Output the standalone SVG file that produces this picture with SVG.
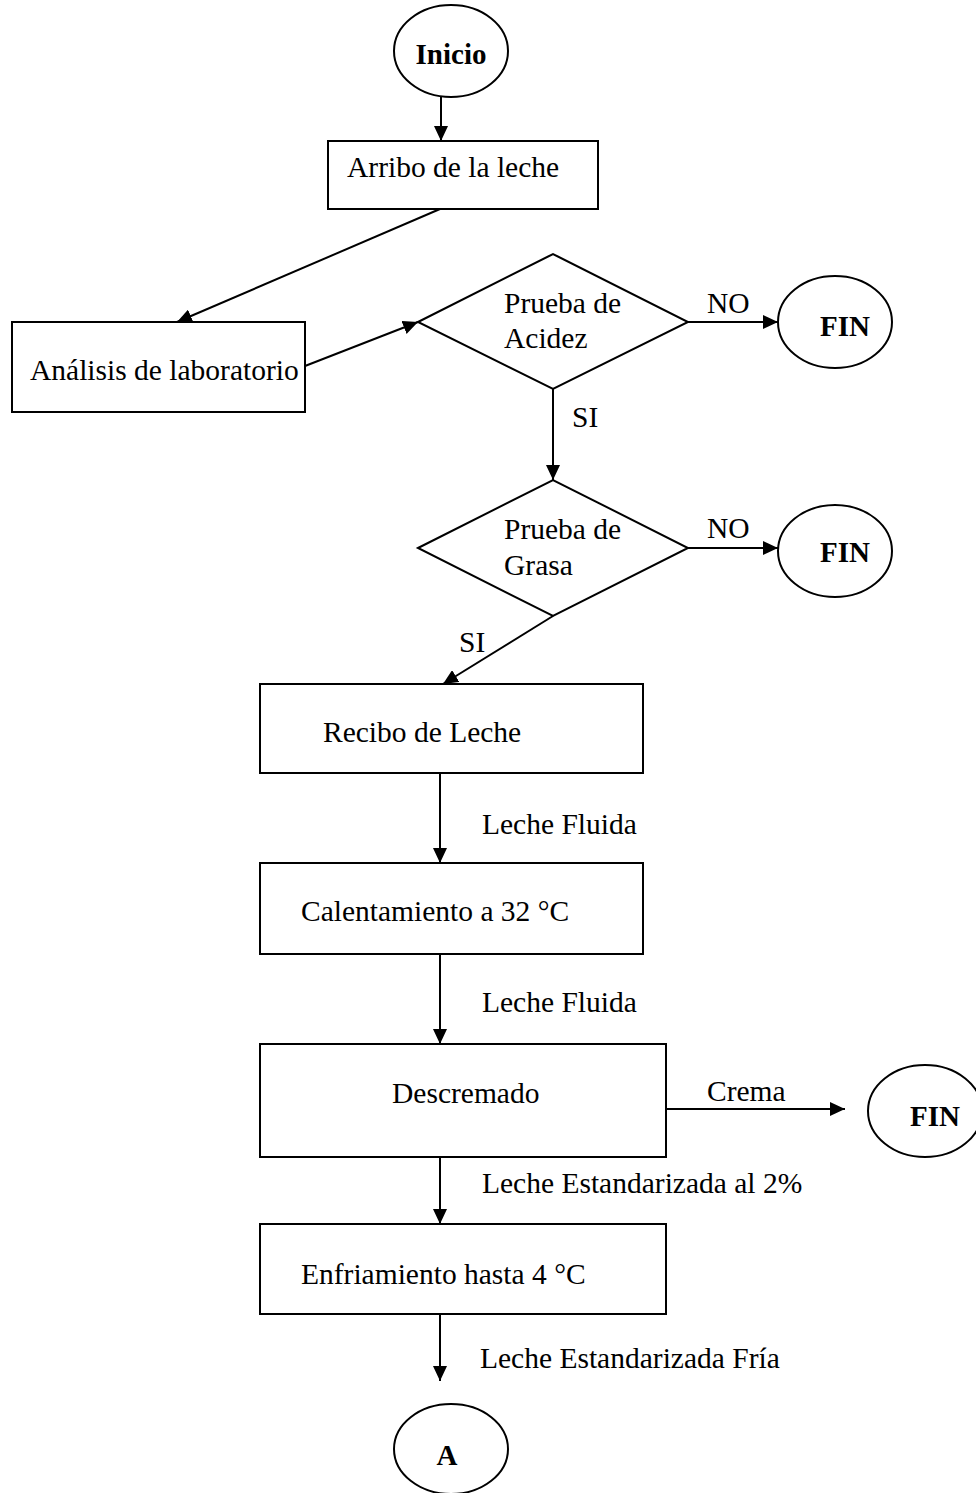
<svg xmlns="http://www.w3.org/2000/svg" width="976" height="1493" viewBox="0 0 976 1493">
<style>
.s{fill:#fff;stroke:#000;stroke-width:2}
.t{font-family:"Liberation Serif","Times New Roman",serif;font-size:29.5px;fill:#000}
.b{font-family:"Liberation Serif","Times New Roman",serif;font-size:29px;font-weight:bold;fill:#000;text-anchor:middle}
.c{fill:none;stroke:#000;stroke-width:2}
</style>
<defs>
<marker id="ar" markerUnits="userSpaceOnUse" markerWidth="16" markerHeight="14" refX="15" refY="7" orient="auto">
<path d="M0,0 L15,7 L0,14 Z" fill="#000"/>
</marker>
</defs>
<rect width="976" height="1493" fill="#fff"/>
<g id="connectors">
<line class="c" x1="441" y1="97" x2="441" y2="141" marker-end="url(#ar)"/>
<line class="c" x1="440" y1="209" x2="177" y2="322" marker-end="url(#ar)"/>
<line class="c" x1="305" y1="366" x2="418" y2="322" marker-end="url(#ar)"/>
<line class="c" x1="688" y1="322" x2="778" y2="322" marker-end="url(#ar)"/>
<line class="c" x1="553" y1="389" x2="553" y2="480" marker-end="url(#ar)"/>
<line class="c" x1="688" y1="548" x2="778" y2="548" marker-end="url(#ar)"/>
<line class="c" x1="553" y1="616" x2="443" y2="684" marker-end="url(#ar)"/>
<line class="c" x1="440" y1="773" x2="440" y2="863" marker-end="url(#ar)"/>
<line class="c" x1="440" y1="954" x2="440" y2="1044" marker-end="url(#ar)"/>
<line class="c" x1="666" y1="1109" x2="845" y2="1109" marker-end="url(#ar)"/>
<line class="c" x1="440" y1="1157" x2="440" y2="1224" marker-end="url(#ar)"/>
<line class="c" x1="440" y1="1314" x2="440" y2="1381" marker-end="url(#ar)"/>
<text class="t" x="707" y="313">NO</text>
<text class="t" x="572" y="427">SI</text>
<text class="t" x="707" y="538">NO</text>
<text class="t" x="459" y="652">SI</text>
<text class="t" x="482" y="834">Leche Fluida</text>
<text class="t" x="482" y="1012">Leche Fluida</text>
<text class="t" x="707" y="1101">Crema</text>
<text class="t" x="482" y="1193">Leche Estandarizada al 2%</text>
<text class="t" x="480" y="1368">Leche Estandarizada Fría</text>
</g>
<g id="inicio">
<ellipse class="s" cx="451" cy="51" rx="57" ry="46"/>
<text class="b" x="451" y="64">Inicio</text>
</g>
<g id="arribo">
<rect class="s" x="328" y="141" width="270" height="68"/>
<text class="t" x="347" y="177">Arribo de la leche</text>
</g>
<g id="analisis">
<rect class="s" x="12" y="322" width="293" height="90"/>
<text class="t" x="30" y="380">Análisis de laboratorio</text>
</g>
<g id="acidez">
<polygon class="s" points="418,322 553,254 688,322 553,389"/>
<text class="t" x="504" y="313">Prueba de</text>
<text class="t" x="504" y="348">Acidez</text>
</g>
<g id="fin1">
<ellipse class="s" cx="835" cy="322" rx="57" ry="46"/>
<text class="b" x="845" y="336">FIN</text>
</g>
<g id="grasa">
<polygon class="s" points="418,548 553,480 688,548 553,616"/>
<text class="t" x="504" y="539">Prueba de</text>
<text class="t" x="504" y="575">Grasa</text>
</g>
<g id="fin2">
<ellipse class="s" cx="835" cy="551" rx="57" ry="46"/>
<text class="b" x="845" y="562">FIN</text>
</g>
<g id="recibo">
<rect class="s" x="260" y="684" width="383" height="89"/>
<text class="t" x="323" y="742">Recibo de Leche</text>
</g>
<g id="calentamiento">
<rect class="s" x="260" y="863" width="383" height="91"/>
<text class="t" x="301" y="921">Calentamiento a 32 °C</text>
</g>
<g id="descremado">
<rect class="s" x="260" y="1044" width="406" height="113"/>
<text class="t" x="392" y="1103">Descremado</text>
</g>
<g id="fin3">
<ellipse class="s" cx="925" cy="1111" rx="57" ry="46"/>
<text class="b" x="935" y="1126">FIN</text>
</g>
<g id="enfriamiento">
<rect class="s" x="260" y="1224" width="406" height="90"/>
<text class="t" x="301" y="1284">Enfriamiento hasta 4 °C</text>
</g>
<g id="a">
<ellipse class="s" cx="451" cy="1449" rx="57" ry="45"/>
<text class="b" x="447" y="1465">A</text>
</g>
</svg>
